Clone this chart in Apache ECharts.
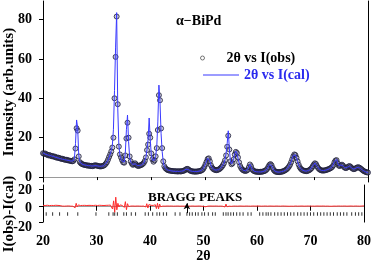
<!DOCTYPE html>
<html>
<head>
<meta charset="utf-8">
<script src="https://cdn.jsdelivr.net/npm/echarts@6/dist/echarts.min.js"></script>
<style>html,body{margin:0;padding:0;background:#fff}#c{width:374px;height:264px}</style>
</head>
<body>
<div id="c"></div>
<script>
// 2θ sampling grid: 20.0 .. 80.0, step 0.2 (301 points)
const thetaStart = 20.0;
const thetaStep = 0.2;

// Observed intensity, one row per 2 degrees (10 points each), last value at 80.0
const iObs = [
  12.1, 11.8, 12.0, 11.5, 11.4, 11.0, 11.2, 10.8, 10.6, 10.7,
  10.3, 10.4, 10.0, 9.8, 9.9, 9.6, 9.5, 9.2, 9.3, 9.0,
  8.9, 8.7, 8.8, 8.5, 8.4, 8.3, 8.1, 8.0, 8.2, 9.0,
  14.5, 24.8, 23.6, 10.5, 7.6, 7.0, 6.6, 6.4, 6.2, 6.1,
  6.0, 5.8, 5.9, 5.7, 5.6, 5.7, 5.5, 5.8, 6.0, 5.9,
  5.8, 5.6, 5.5, 5.4, 5.5, 5.6, 5.8, 6.2, 6.8, 7.6,
  8.8, 10.2, 11.5, 13.0, 15.0, 20.0, 40.0, 61.0, 81.5, 37.0,
  15.5, 11.5, 10.0, 8.6, 7.5, 7.3, 11.0, 19.6, 27.6, 20.0,
  10.5, 8.0, 6.8, 6.2, 6.5, 7.0, 6.4, 5.8, 5.6, 5.8,
  6.0, 6.2, 6.6, 7.2, 8.2, 10.0, 13.7, 16.5, 22.0, 20.0,
  12.0, 9.0, 7.8, 8.5, 10.5, 14.7, 23.9, 41.6, 39.0, 24.7,
  14.7, 8.0, 5.5, 4.5, 4.0, 3.6, 3.4, 3.3, 3.2, 3.1,
  3.0, 3.0, 2.9, 3.0, 2.8, 2.9, 3.0, 2.8, 3.0, 3.1,
  3.2, 3.5, 3.9, 4.2, 4.0, 3.5, 3.2, 3.0, 2.9, 2.8,
  2.8, 2.7, 2.9, 2.8, 3.0, 3.1, 3.3, 3.6, 4.2, 5.2,
  6.5, 7.8, 9.2, 9.5, 8.0, 6.0, 4.8, 4.2, 3.8, 3.6,
  3.5, 3.6, 3.8, 4.1, 4.6, 5.2, 6.0, 7.0, 8.5, 11.0,
  15.4, 21.0, 14.0, 8.0, 6.5, 7.0, 9.0, 11.5, 12.8, 12.2,
  10.0, 7.5, 5.6, 4.5, 3.8, 3.4, 3.2, 3.1, 3.3, 3.7,
  5.0, 6.4, 5.5, 4.0, 3.3, 3.0, 2.8, 2.7, 2.7, 2.6,
  2.6, 2.7, 2.7, 2.8, 3.0, 3.2, 3.6, 4.2, 5.2, 6.2,
  6.6, 6.0, 4.6, 3.6, 3.0, 2.7, 2.6, 2.5, 2.5, 2.6,
  2.7, 2.8, 3.0, 3.3, 3.6, 4.0, 4.6, 5.3, 6.2, 7.5,
  9.0, 10.5, 11.5, 11.2, 9.8, 8.0, 6.3, 5.0, 4.2, 3.7,
  3.4, 3.2, 3.1, 3.0, 3.1, 3.3, 3.6, 4.0, 4.6, 5.5,
  6.4, 7.0, 6.6, 5.5, 4.6, 4.0, 3.6, 3.4, 3.3, 3.3,
  3.4, 3.5, 3.7, 3.9, 4.1, 4.4, 4.7, 5.2, 6.0, 7.5,
  8.4, 8.6, 7.0, 5.8, 5.6, 6.0, 6.3, 5.8, 5.0, 4.6,
  4.6, 5.0, 5.4, 5.6, 5.2, 4.6, 4.2, 4.0, 4.2, 4.6,
  4.9, 5.0, 4.8, 4.4, 4.0, 3.5, 3.1, 2.8, 2.6, 2.4,
  2.3
];

// Calculated intensity, same grid
const iCal = [
  12.3, 12.0, 11.7, 11.6, 11.3, 11.2, 11.0, 10.9, 10.7, 10.5,
  10.4, 10.2, 10.0, 9.9, 9.7, 9.5, 9.4, 9.2, 9.1, 9.0,
  8.8, 8.7, 8.6, 8.5, 8.4, 8.2, 8.1, 8.0, 8.3, 9.5,
  17.0, 29.0, 25.0, 11.0, 7.8, 7.0, 6.6, 6.4, 6.2, 6.1,
  6.0, 5.9, 5.8, 5.7, 5.7, 5.6, 5.6, 5.7, 5.8, 5.8,
  5.7, 5.6, 5.5, 5.5, 5.5, 5.6, 5.8, 6.2, 6.8, 7.6,
  8.6, 10.0, 11.6, 13.4, 16.0, 24.0, 44.0, 66.0, 83.5, 35.0,
  16.5, 11.0, 9.4, 8.2, 7.4, 7.6, 12.5, 24.0, 31.5, 18.0,
  10.0, 7.6, 6.6, 6.3, 6.6, 6.8, 6.3, 5.9, 5.7, 5.8,
  6.0, 6.2, 6.5, 7.0, 8.0, 10.0, 14.0, 19.0, 30.0, 19.0,
  11.0, 8.6, 7.8, 8.6, 10.5, 15.5, 28.0, 46.7, 38.0, 22.0,
  13.0, 7.6, 5.4, 4.4, 3.9, 3.6, 3.4, 3.3, 3.2, 3.1,
  3.0, 3.0, 2.9, 2.9, 2.9, 2.9, 2.9, 2.9, 3.0, 3.1,
  3.3, 3.6, 4.0, 4.1, 3.9, 3.5, 3.2, 3.0, 2.9, 2.8,
  2.8, 2.8, 2.8, 2.9, 3.0, 3.1, 3.3, 3.7, 4.3, 5.3,
  6.8, 8.2, 9.6, 10.0, 8.2, 6.0, 4.8, 4.2, 3.8, 3.6,
  3.5, 3.6, 3.8, 4.1, 4.6, 5.2, 6.0, 7.1, 8.8, 12.0,
  17.0, 23.5, 14.5, 8.2, 6.6, 7.2, 9.3, 12.0, 13.2, 12.0,
  9.6, 7.2, 5.5, 4.4, 3.8, 3.4, 3.2, 3.2, 3.4, 3.9,
  5.2, 6.6, 5.4, 4.0, 3.3, 3.0, 2.8, 2.7, 2.7, 2.6,
  2.6, 2.6, 2.7, 2.8, 3.0, 3.2, 3.6, 4.2, 5.3, 6.4,
  6.8, 5.9, 4.5, 3.5, 3.0, 2.7, 2.6, 2.5, 2.5, 2.6,
  2.7, 2.8, 3.0, 3.2, 3.6, 4.0, 4.6, 5.4, 6.4, 7.8,
  9.4, 10.9, 11.9, 11.3, 9.8, 7.9, 6.2, 5.0, 4.2, 3.7,
  3.4, 3.2, 3.1, 3.0, 3.1, 3.3, 3.6, 4.0, 4.7, 5.6,
  6.5, 7.2, 6.6, 5.5, 4.6, 4.0, 3.6, 3.4, 3.3, 3.3,
  3.4, 3.5, 3.7, 3.9, 4.1, 4.4, 4.8, 5.3, 6.2, 7.8,
  8.8, 9.0, 7.2, 5.9, 5.7, 6.1, 6.3, 5.7, 5.0, 4.6,
  4.6, 5.0, 5.4, 5.5, 5.1, 4.6, 4.2, 4.0, 4.2, 4.6,
  4.8, 5.0, 4.8, 4.4, 3.9, 3.5, 3.1, 2.8, 2.6, 2.4,
  2.3
];

// Difference curve I(obs)-I(cal), same grid
const iDiff = [
  0.5, -0.6, 0.3, -0.2, 0.6, -0.4, 0.2, -0.5, 0.4, -0.3,
  0.3, -0.5, 0.6, -0.2, 0.4, -0.6, 0.2, 0.5, -0.4, 0.3,
  -0.5, 0.4, -0.3, 0.6, -0.2, 0.3, -0.5, 0.4, -0.6, 1.2,
  -2.5, 3.0, -1.5, 1.0, -0.4, 0.3, -0.5, 0.4, -0.3, 0.5,
  -0.4, 0.3, -0.6, 0.5, -0.3, 0.4, -0.5, 0.3, -0.2, 0.6,
  -0.4, 0.3, -0.5, 0.6, -0.3, 0.4, -0.6, 0.3, -0.4, 0.5,
  -0.3, 0.6, -0.5, 0.8, -1.2, -4.0, 6.0, -8.0, 10.5, -5.0,
  3.0, -1.5, 1.0, -0.6, 0.4, -0.5, -2.0, 5.0, -4.8, 2.5,
  -1.0, 0.6, -0.4, 0.5, -0.3, 0.6, -0.5, 0.4, -0.3, 0.5,
  -0.4, 0.3, -0.5, 0.6, -0.4, 1.0, -1.5, 2.5, -2.8, 1.5,
  -0.8, 0.5, -0.6, 0.4, -0.5, 1.2, -3.5, 3.0, -3.8, 2.0,
  -1.2, 0.6, -0.4, 0.3, -0.5, 0.4, -0.3, 0.5, -0.4, 0.3,
  -0.3, 0.4, -0.5, 0.3, -0.4, 0.5, -0.3, 0.4, -0.5, 0.3,
  -0.4, 0.3, -0.5, 0.6, -0.3, 0.4, -0.5, 0.3, -0.4, 0.5,
  -0.3, 0.4, -0.5, 0.3, -0.4, 0.5, -0.3, 0.4, -0.5, 0.6,
  -0.8, 1.0, -1.2, 0.8, -0.5, 0.4, -0.3, 0.5, -0.4, 0.3,
  -0.4, 0.5, -0.3, 0.4, -0.5, 0.3, -0.4, 0.5, -0.6, 1.0,
  -1.5, 2.0, -1.2, 0.8, -0.5, 0.6, -0.7, 0.5, -0.4, 0.6,
  -0.4, 0.3, -0.5, 0.4, -0.3, 0.5, -0.4, 0.3, -0.5, 0.4,
  -0.3, 0.5, -0.4, 0.3, -0.5, 0.4, -0.3, 0.5, -0.4, 0.3,
  -0.4, 0.5, -0.3, 0.4, -0.5, 0.3, -0.4, 0.5, -0.3, 0.4,
  -0.5, 0.4, -0.3, 0.5, -0.4, 0.3, -0.5, 0.4, -0.3, 0.5,
  -0.4, 0.3, -0.5, 0.4, -0.3, 0.5, -0.4, 0.3, -0.5, 0.6,
  -0.6, 0.8, -0.5, 0.4, -0.6, 0.5, -0.3, 0.4, -0.5, 0.3,
  -0.4, 0.5, -0.3, 0.4, -0.5, 0.3, -0.4, 0.5, -0.3, 0.4,
  -0.5, 0.6, -0.4, 0.3, -0.5, 0.4, -0.3, 0.5, -0.4, 0.3,
  -0.4, 0.5, -0.3, 0.4, -0.5, 0.3, -0.4, 0.5, -0.6, 0.5,
  -0.6, 0.7, -0.4, 0.3, -0.5, 0.4, -0.3, 0.5, -0.4, 0.3,
  -0.4, 0.5, -0.3, 0.4, -0.5, 0.3, -0.4, 0.5, -0.3, 0.4,
  -0.5, 0.4, -0.3, 0.5, -0.4, 0.3, -0.5, 0.4, -0.3, 0.5,
  -0.2
];

// Bragg reflection positions (2θ)
const braggPos = [
  20.6, 21.8, 23.1, 24.6, 26.5, 29.9, 32.3, 33.1, 33.4, 33.9,
  35.1, 35.6, 36.5, 37.3, 39.1, 39.7, 40.5, 41.3, 41.8, 42.5,
  43.1, 44.7, 45.6, 46.9, 47.4, 47.9, 48.5, 49.0, 49.7, 50.2,
  50.9, 51.7, 52.2, 53.7, 54.2, 54.6, 55.1, 55.6, 56.2, 56.8,
  57.4, 58.3, 58.9, 60.5, 61.1, 61.7, 62.1, 62.6, 63.3, 63.9,
  64.5, 65.1, 65.7, 66.3, 66.9, 67.6, 68.2, 68.8, 69.4, 70.0,
  70.6, 71.3, 71.9, 72.5, 73.1, 73.7, 74.3, 75.0, 75.6, 76.2,
  76.8, 77.7, 78.4, 79.0, 79.6
];
const braggLevel = -10;
const arrowPos = 46.9;

const xTicks = [20, 30, 40, 50, 60, 70, 80];
const intensityTicks = [0, 20, 40, 60, 80];
const diffTicks = [-20, 0, 20];

const obsName = '2θ vs I(obs)';
const calName = '2θ vs I(cal)';
const titleText = 'α−BiPd';
const braggText = 'BRAGG PEAKS';
const yTitleTop = 'Intensity (arb.units)';
const yTitleBottom = 'I(obs)-I(cal)';
const xTitle = '2θ';

// ---- build ----
const theta = iObs.map((_, i) => +(thetaStart + i * thetaStep).toFixed(1));
const obsData = theta.map((t, i) => [t, iObs[i]]);
const calData = theta.map((t, i) => [t, iCal[i]]);
const diffData = theta.map((t, i) => [t, iDiff[i]]);
const braggData = braggPos.map(p => [p, braggLevel]);

// residual panel; a taller label-only grid shares its value scale
const diffGrid = { top: 185, height: 42 };
const diffMin = -20, diffMax = 25.4;
const pxPerUnit = diffGrid.height / (diffMax - diffMin);
const labelGrid = { top: 150, height: 110 };
const zeroY = diffGrid.top + diffMax * pxPerUnit;
const labelMin = -(labelGrid.top + labelGrid.height - zeroY) / pxPerUnit;
const labelMax = (zeroY - labelGrid.top) / pxPerUnit;

const FONT = '"Liberation Serif", "Times New Roman", serif';
const lbl = { fontFamily: FONT, fontWeight: 'bold', fontSize: 14, color: '#000', hideOverlap: false };

// one label-only axis per residual tick value, so no label can hide another
const diffLabelAxes = diffTicks.map(v => ({
  gridIndex: 2, type: 'value', min: labelMin, max: labelMax, position: 'left', offset: 0,
  axisLine: { show: false }, axisTick: { show: false }, splitLine: { show: false },
  axisLabel: Object.assign({ margin: 11, customValues: [v], showMinLabel: true, showMaxLabel: true }, lbl)
}));

const chart = echarts.init(document.getElementById('c'), null, { renderer: 'canvas' });
chart.setOption({
  animation: false,
  backgroundColor: '#fff',
  title: {
    text: titleText, left: 171, top: 9,
    textStyle: { fontFamily: FONT, fontWeight: 'bold', fontSize: 14, color: '#000' }
  },
  legend: [
    { orient: 'vertical', left: 195, top: 46, itemWidth: 38, itemHeight: 4,
      textStyle: { fontFamily: FONT, fontWeight: 'bold', fontSize: 14, color: '#000' },
      data: [{ name: obsName, icon: 'circle',
               itemStyle: { color: '#fff', borderColor: '#555', borderWidth: 1 } }] },
    { orient: 'vertical', left: 198, top: 63, itemWidth: 36, itemHeight: 1,
      textStyle: { fontFamily: FONT, fontWeight: 'bold', fontSize: 14, color: '#2a2aee' },
      data: [{ name: calName, icon: 'rect' }] }
  ],
  grid: [
    { left: 43, right: 6, top: 1, height: 181 },
    { left: 43, right: 6, top: diffGrid.top, height: diffGrid.height },
    { left: 43, right: 6, top: labelGrid.top, height: labelGrid.height }
  ],
  xAxis: [
    { gridIndex: 0, type: 'value', min: 20, max: 80, interval: 10, position: 'bottom',
      axisLine: { lineStyle: { color: '#000', width: 1 } },
      axisTick: { show: true, length: 3, lineStyle: { color: '#000' } },
      axisLabel: { show: false }, splitLine: { show: false } },
    { gridIndex: 0, type: 'value', min: 20, max: 80, position: 'top',
      axisLine: { lineStyle: { color: '#9a9a9a' } }, axisTick: { show: false },
      axisLabel: { show: false }, splitLine: { show: false } },
    { gridIndex: 1, type: 'value', min: 20, max: 80, interval: 10, position: 'bottom',
      axisLine: { lineStyle: { color: '#000', width: 1 } },
      axisTick: { show: true, length: 5, lineStyle: { color: '#000' } },
      axisLabel: Object.assign({ margin: 12, customValues: xTicks }, lbl),
      splitLine: { show: false },
      name: xTitle, nameLocation: 'middle', nameGap: 24,
      nameTextStyle: { fontFamily: FONT, fontWeight: 'bold', fontSize: 14, color: '#000' } },
    { gridIndex: 1, type: 'value', min: 20, max: 80, position: 'top',
      axisLine: { lineStyle: { color: '#9a9a9a' } }, axisTick: { show: false },
      axisLabel: { show: false }, splitLine: { show: false } },
    { gridIndex: 2, type: 'value', min: 20, max: 80, show: false }
  ],
  yAxis: [
    { gridIndex: 0, type: 'value', min: -2.5, max: 89.4, position: 'left',
      axisLine: { show: true, lineStyle: { color: '#000' } },
      axisTick: { show: true, length: 4, customValues: intensityTicks, lineStyle: { color: '#000' } },
      axisLabel: Object.assign({ margin: 11, customValues: intensityTicks }, lbl),
      splitLine: { show: false } },
    { gridIndex: 0, type: 'value', min: -2.5, max: 89.4, position: 'right',
      axisLine: { show: true, lineStyle: { color: '#000' } }, axisTick: { show: false },
      axisLabel: { show: false }, splitLine: { show: false } },
    { gridIndex: 1, type: 'value', min: diffMin, max: diffMax, position: 'left',
      axisLine: { show: true, lineStyle: { color: '#000' } },
      axisTick: { show: true, length: 4, customValues: diffTicks, lineStyle: { color: '#000' } },
      axisLabel: { show: false },
      splitLine: { show: false } },
    { gridIndex: 1, type: 'value', min: diffMin, max: diffMax, position: 'right',
      axisLine: { show: true, lineStyle: { color: '#000' } }, axisTick: { show: false },
      axisLabel: { show: false }, splitLine: { show: false } }
  ].concat(diffLabelAxes),
  graphic: [
    { type: 'text', x: 9, y: 92, rotation: Math.PI / 2,
      style: { text: yTitleTop, font: 'bold 15px ' + FONT, fill: '#000', align: 'center', verticalAlign: 'middle' } },
    { type: 'text', x: 9, y: 214, rotation: Math.PI / 2,
      style: { text: yTitleBottom, font: 'bold 15px ' + FONT, fill: '#000', align: 'center', verticalAlign: 'middle' } },
    { type: 'text', x: 148, y: 197.5, z: 10,
      style: { text: braggText, font: 'bold 13px ' + FONT, fill: '#000', align: 'left', verticalAlign: 'middle' } }
  ],
  series: [
    { name: obsName, type: 'scatter', xAxisIndex: 0, yAxisIndex: 0, data: obsData,
      symbol: 'circle', symbolSize: 5, z: 2,
      itemStyle: { color: 'rgba(110,110,140,0.45)', borderColor: '#1c1c38', borderWidth: 1 } },
    { name: calName, type: 'line', xAxisIndex: 0, yAxisIndex: 0, data: calData,
      symbol: 'none', z: 3, lineStyle: { color: '#3a3aff', width: 1 }, itemStyle: { color: '#3a3aff' } },
    { name: 'diff', type: 'line', xAxisIndex: 2, yAxisIndex: 2, data: diffData,
      symbol: 'none', lineStyle: { color: '#ff2a2a', width: 1 } },
    { name: 'bragg', type: 'scatter', xAxisIndex: 2, yAxisIndex: 2, data: braggData,
      symbol: 'rect', symbolSize: [1, 3.5], itemStyle: { color: '#000' },
      markLine: {
        silent: true, symbol: ['none', 'arrow'], symbolSize: [5, 6],
        lineStyle: { color: '#000', width: 1, type: 'solid' }, label: { show: false },
        data: [[{ coord: [arrowPos, braggLevel + 1] }, { coord: [arrowPos, 3] }]]
      } }
  ]
});
</script>
</body>
</html>
